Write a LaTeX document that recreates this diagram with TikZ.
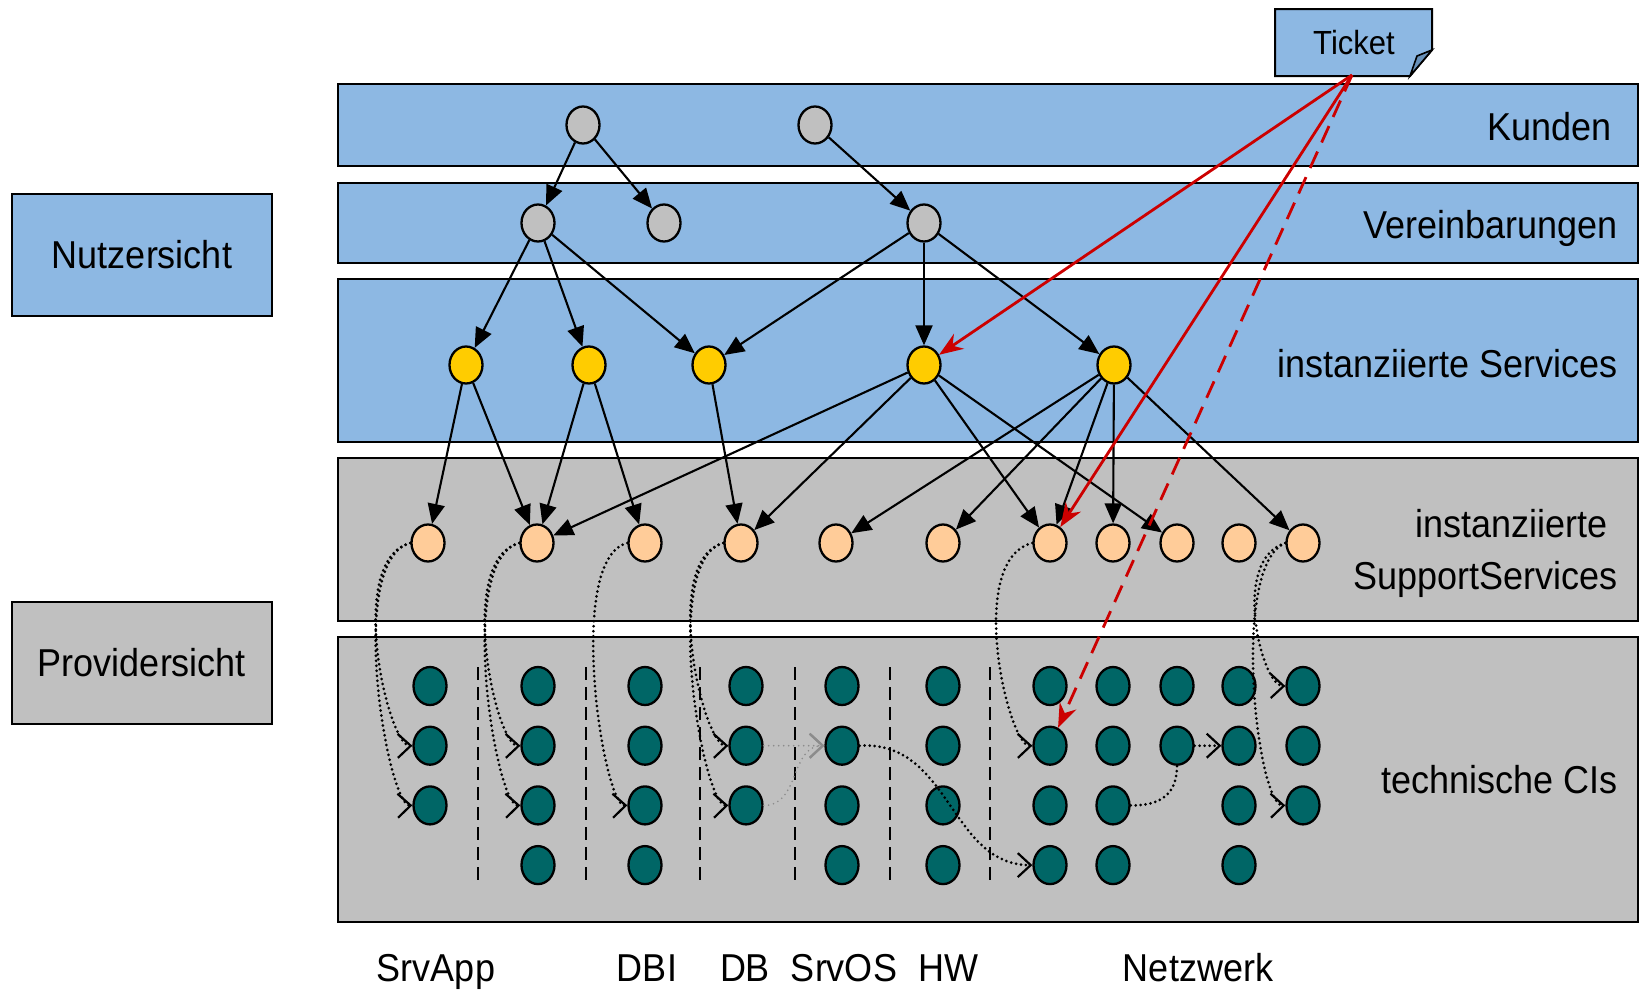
\documentclass[tikz,border=0pt]{standalone}
\usepackage{fontspec}
\setmainfont{Liberation Sans}
\usetikzlibrary{arrows.meta,shapes.geometric}
\definecolor{bandblue}{RGB}{141,184,227}
\definecolor{bandgray}{RGB}{192,192,192}
\definecolor{nodegray}{RGB}{192,192,192}
\definecolor{svcyellow}{RGB}{255,204,0}
\definecolor{peach}{RGB}{255,204,153}
\definecolor{citeal}{RGB}{0,102,102}
\definecolor{tred}{RGB}{204,0,0}
\definecolor{folddark}{RGB}{105,145,185}
\newcommand{\tallt}[1]{\scalebox{1}[1.08]{#1}}
\begin{document}
\begin{tikzpicture}[x=0.5pt,y=-0.5pt,
  every node/.style={font=\fontsize{18}{26}\selectfont},
  band/.style={draw=black,line width=1pt,minimum width=650pt,inner sep=0},
  sidebox/.style={draw=black,line width=1pt,minimum width=130pt,minimum height=61pt,inner sep=0},
  ell/.style={ellipse,draw=black,line width=1.15pt,minimum width=16.5pt,minimum height=18.5pt,inner sep=0},
  kn/.style={ell,fill=nodegray},
  sv/.style={ell,fill=svcyellow},
  sp/.style={ell,fill=peach},
  ci/.style={ell,fill=citeal,minimum height=19pt},
  edge/.style={line width=1.05pt,-{Triangle[length=10pt,width=8.5pt]}},
  dots/.style={line width=1.5pt,line cap=round,dash pattern=on 0pt off 2.5pt},
  dep/.style={dots,-{Straight Barb[length=6.5pt,width=12pt,line width=1.1pt]}},
  depg/.style={dep,draw=black!45,line width=0.9pt},
  sep/.style={line width=1pt,dash pattern=on 6.5pt off 3.5pt},
  redarr/.style={draw=tred,line width=1.4pt,-{Stealth[length=12pt,width=9pt,tred]}},
  lbl/.style={anchor=base east,inner sep=0}
]
\useasboundingbox (0,0) rectangle (1640,991);

% bands
\node[band,fill=bandblue,minimum height=41pt] (kunden) at (988,125) {};
\node[band,fill=bandblue,minimum height=40pt] (verein) at (988,223) {};
\node[band,fill=bandblue,minimum height=81.5pt] (services) at (988,360.5) {};
\node[band,fill=bandgray,minimum height=81.5pt] (support) at (988,539.5) {};
\node[band,fill=bandgray,minimum height=142.5pt] (tech) at (988,779.5) {};

% side boxes
\node[sidebox,fill=bandblue] (nutzer) at (142,255) {\tallt{Nutzersicht}};
\node[sidebox,fill=bandgray] (provider) at (142,663) {\tallt{Providersicht}};

% band labels
\node[lbl] (lkunden) at (1612,140) {\tallt{Kunden}};
\node[lbl] (lverein) at (1618,238) {\tallt{Vereinbarungen}};
\node[lbl] (lserv) at (1618,377) {\tallt{instanziierte Services}};
\node[align=right,anchor=east,inner sep=0] (lsupp) at (1618,553) {\tallt{instanziierte\kern0.28em}\\\tallt{SupportServices}};
\node[lbl] (ltech) at (1618,793) {\tallt{technische CIs}};

% bottom labels
\node[anchor=base] (lsrvapp) at (436,981) {\tallt{SrvApp}};
\node[anchor=base] (ldbi) at (647,981) {\tallt{DBI}};
\node[anchor=base] (ldb) at (745,981) {\tallt{DB}};
\node[anchor=base] (lsrvos) at (844,981) {\tallt{SrvOS}};
\node[anchor=base] (lhw) at (948,981) {\tallt{HW}};
\node[anchor=base] (lnetz) at (1198,981) {\tallt{Netzwerk}};

% separators
\foreach \x in {478,586,700,795,890,990}
  \draw[sep] (\x,667) -- (\x,884);

% ticket
\filldraw[fill=bandblue,draw=black,line width=1pt] (1275,9) -- (1432,9) -- (1432,50) -- (1410,76) -- (1275,76) -- cycle;
\filldraw[fill=folddark,draw=black,line width=0.8pt] (1410,76) -- (1417,56) -- (1432,50) -- cycle;
\node[font=\fontsize{15.5}{18}\selectfont] (ticket) at (1354,43) {\tallt{Ticket}};
\coordinate (tk) at (1352,75);

% customer and agreement nodes
\node[kn] (K1) at (583,125) {};
\node[kn] (K2) at (815,125) {};
\node[kn] (V1) at (538,223) {};
\node[kn] (V2) at (664,223) {};
\node[kn] (V3) at (924,223) {};

% services
\node[sv] (S1) at (466,365) {};
\node[sv] (S2) at (589,365) {};
\node[sv] (S3) at (709,365) {};
\node[sv] (S4) at (924,365) {};
\node[sv] (S5) at (1114,365) {};

% support services
\foreach \i/\x in {1/428,2/537,3/645,4/741,5/836,6/943,7/1050,8/1113,9/1177,10/1239,11/1303}
  \node[sp] (P\i) at (\x,543) {};

% technical CIs
\foreach \c/\x/\rs in {1/430/{1,2,3},2/538/{1,2,3,4},3/645/{1,2,3,4},4/746/{1,2,3},5/842/{1,2,3,4},6/943/{1,2,3,4},7/1050/{1,2,3,4},8/1113/{1,2,3,4},9/1177/{1,2},10/1239/{1,2,3,4},11/1303/{1,2,3}}
  \foreach \r in \rs
    \node[ci] (t\c r\r) at (\x,{686+(\r-1)*59.7}) {};

% solid edges
\draw[edge] (K1) -- (V1);
\draw[edge] (K1) -- (V2);
\draw[edge] (K2) -- (V3);
\draw[edge] (V1) -- (S1);
\draw[edge] (V1) -- (S2);
\draw[edge] (V1) -- (S3);
\draw[edge] (V3) -- (S3);
\draw[edge] (V3) -- (S4);
\draw[edge] (V3) -- (S5);
\draw[edge] (S1) -- (P1);
\draw[edge] (S1) -- (P2);
\draw[edge] (S2) -- (P2);
\draw[edge] (S2) -- (P3);
\draw[edge] (S3) -- (P4);
\draw[edge] (S4) -- (P2);
\draw[edge] (S4) -- (P4);
\draw[edge] (S4) -- (P7);
\draw[edge] (S4) -- (P9);
\draw[edge] (S5) -- (P5);
\draw[edge] (S5) -- (P6);
\draw[edge] (S5) -- (P7);
\draw[edge] (S5) -- (P8);
\draw[edge] (S5) -- (P11);

% dotted dependencies
\draw[dep] (P1.west) .. controls (345,560) and (388,746) .. (t1r2.west);
\draw[dep] (P1.west) .. controls (345,560) and (388,806) .. (t1r3.west);
\draw[dep] (P2.west) .. controls (455,560) and (496,746) .. (t2r2.west);
\draw[dep] (P2.west) .. controls (455,560) and (496,806) .. (t2r3.west);
\draw[dep] (P3.west) .. controls (565,558) and (603,806) .. (t3r3.west);
\draw[dep] (P4.west) .. controls (660,560) and (703,746) .. (t4r2.west);
\draw[dep] (P4.west) .. controls (660,560) and (703,806) .. (t4r3.west);
\draw[depg] (t4r2.east) -- (t5r2.west);
\draw[depg] (t4r3.east) .. controls (800,806) and (790,746) .. (t5r2.west);
\draw[dep] (t5r2.east) .. controls (950,740) and (950,865) .. (t7r4.west);
\draw[dep] (P7.west) .. controls (965,560) and (1008,746) .. (t7r2.west);
\draw[dots] (t8r3.east) .. controls (1165,806) and (1177,790) .. (t9r2.south);
\draw[dep] (t9r2.east) -- (t10r2.west);
\draw[dep] (P11.west) .. controls (1230,560) and (1262,686) .. (t11r1.west);
\draw[dep] (P11.west) .. controls (1230,565) and (1257,806) .. (t11r3.west);

% ticket arrows
\draw[redarr] (tk) -- (S4);
\draw[redarr] (tk) -- (P7);
\draw[redarr,dash pattern=on 9pt off 5pt] (tk) -- (t7r2);
\end{tikzpicture}
\end{document}
